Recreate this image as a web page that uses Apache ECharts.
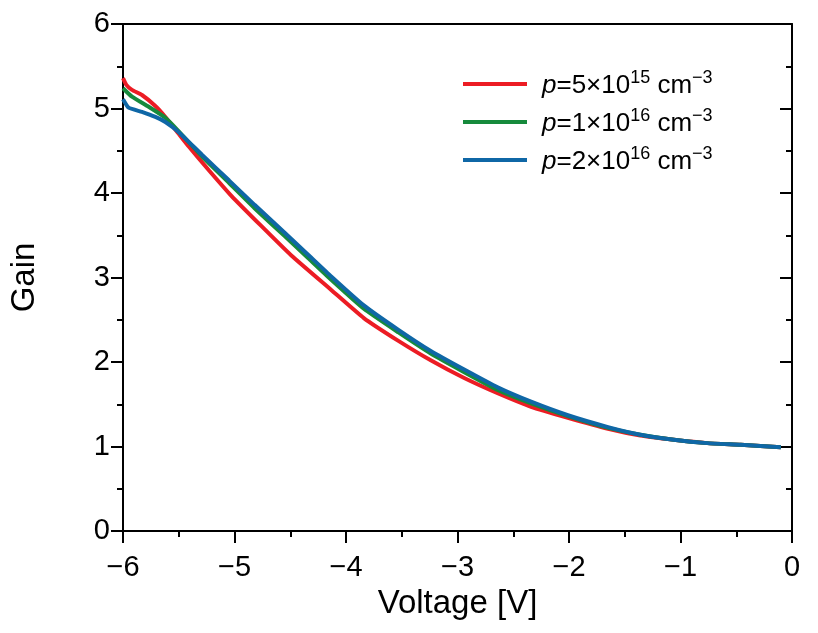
<!DOCTYPE html>
<html>
<head>
<meta charset="utf-8">
<title>Gain vs Voltage</title>
<script src="https://cdn.jsdelivr.net/npm/echarts@6/dist/echarts.min.js"></script>
<style>
  html, body { margin: 0; padding: 0; background: #fff; }
  #main { width: 818px; height: 633px; }
</style>
</head>
<body>
<div id="main"></div>
<script>
// p = 5e15 cm^-3
var voltRed = [-6.0, -5.97, -5.92, -5.83, -5.71, -5.62, -5.5, -5.41, -5.23, -5.03, -4.76, -4.49, -4.13, -3.84, -3.53, -3.24, -2.94, -2.64, -2.34, -2.01, -1.65, -1.36, -1.06, -0.76, -0.46, -0.1];
var gainRed = [5.36, 5.28, 5.22, 5.16, 5.03, 4.90, 4.70, 4.55, 4.27, 3.97, 3.61, 3.26, 2.85, 2.52, 2.25, 2.02, 1.81, 1.63, 1.47, 1.34, 1.21, 1.13, 1.08, 1.04, 1.02, 0.99];

// p = 1e16 cm^-3
var voltGreen = [-6.0, -5.92, -5.77, -5.62, -5.5, -5.29, -5.05, -4.82, -4.55, -4.34, -4.13, -3.84, -3.53, -3.24, -2.94, -2.64, -2.34, -2.01, -1.65, -1.36, -1.06, -0.76, -0.46, -0.1];
var gainGreen = [5.24, 5.14, 5.02, 4.89, 4.73, 4.43, 4.12, 3.82, 3.49, 3.23, 2.97, 2.63, 2.35, 2.10, 1.88, 1.67, 1.51, 1.36, 1.22, 1.14, 1.08, 1.04, 1.02, 0.99];

// p = 2e16 cm^-3
var voltBlue = [-6.0, -5.95, -5.83, -5.71, -5.62, -5.5, -5.29, -5.05, -4.82, -4.55, -4.34, -4.13, -3.84, -3.53, -3.24, -2.94, -2.64, -2.34, -2.01, -1.65, -1.36, -1.06, -0.76, -0.46, -0.1];
var gainBlue = [5.11, 5.01, 4.96, 4.90, 4.84, 4.72, 4.45, 4.15, 3.86, 3.53, 3.27, 3.01, 2.67, 2.38, 2.13, 1.91, 1.70, 1.53, 1.37, 1.23, 1.14, 1.08, 1.04, 1.02, 0.99];

// legend text: mantissa and exponent of p
var seriesNames = ['p1', 'p2', 'p3'];
var mantissas = ['5', '1', '2'];
var exponents = ['15', '16', '16'];
var colors = ['#ec1c24', '#168a3c', '#0f67a6'];

function pairs(xs, ys) {
    var out = [];
    for (var i = 0; i < xs.length; i++) {
        out.push([xs[i], ys[i]]);
    }
    return out;
}

var chart = echarts.init(document.getElementById('main'));
var font = 'Liberation Sans, Arial, sans-serif';
var axisCol = '#000';

var seriesData = [pairs(voltRed, gainRed), pairs(voltGreen, gainGreen), pairs(voltBlue, gainBlue)];
var series = [];
for (var k = 0; k < 3; k++) {
    series.push({
        name: seriesNames[k],
        type: 'line',
        data: seriesData[k],
        smooth: 0.15,
        showSymbol: false,
        lineStyle: { width: 4, color: colors[k] },
        itemStyle: { color: colors[k] }
    });
}

var option = {
    animation: false,
    backgroundColor: '#fff',
    grid: { left: 121, right: 26, top: 24, bottom: 102 },
    legend: {
        orient: 'vertical',
        left: 458,
        top: 64,
        icon: 'rect',
        itemWidth: 64,
        itemHeight: 4,
        itemGap: 8,
        data: seriesNames,
        formatter: function (name) {
            var i = seriesNames.indexOf(name);
            return '{i|p}{n|=' + mantissas[i] + '×10}{s|' + exponents[i] + '}{n| cm}{s|\u22123}';
        },
        textStyle: {
            padding: [0, 0, 0, 10],
            rich: {
                i: { fontFamily: font, fontSize: 26, fontStyle: 'italic', color: '#000', lineHeight: 30, verticalAlign: 'bottom' },
                n: { fontFamily: font, fontSize: 26, color: '#000', lineHeight: 30, verticalAlign: 'bottom' },
                s: { fontFamily: font, fontSize: 18, color: '#000', lineHeight: 30, verticalAlign: 'top' }
            }
        }
    },
    xAxis: [{
        type: 'value',
        min: -6,
        max: 0,
        interval: 1,
        name: 'Voltage [V]',
        nameLocation: 'middle',
        nameGap: 56,
        nameTextStyle: { fontFamily: font, fontSize: 33, color: '#000' },
        axisLine: { onZero: false, lineStyle: { color: axisCol, width: 2 } },
        axisTick: { inside: false, length: 12, lineStyle: { width: 2, color: axisCol } },
        minorTick: { show: true, splitNumber: 2, length: 6, lineStyle: { width: 2, color: axisCol } },
        axisLabel: {
            margin: 22, fontFamily: font, fontSize: 29, color: '#000',
            formatter: function (v) { return v < 0 ? '\u2212' + Math.abs(v) : String(v); }
        },
        splitLine: { show: false }
    }, {
        type: 'value',
        position: 'top',
        min: -6,
        max: 0,
        axisLine: { onZero: false, lineStyle: { color: axisCol, width: 2 } },
        axisTick: { show: false },
        axisLabel: { show: false },
        splitLine: { show: false }
    }],
    yAxis: [{
        type: 'value',
        min: 0,
        max: 6,
        interval: 1,
        name: 'Gain',
        nameLocation: 'middle',
        nameGap: 82,
        nameTextStyle: { fontFamily: font, fontSize: 33, color: '#000' },
        axisLine: { show: true, onZero: false, lineStyle: { color: axisCol, width: 2 } },
        axisTick: { show: true, inside: false, length: 12, lineStyle: { width: 2, color: axisCol } },
        minorTick: { show: true, splitNumber: 2, length: 6, lineStyle: { width: 2, color: axisCol } },
        axisLabel: { margin: 13, fontFamily: font, fontSize: 29, color: '#000' },
        splitLine: { show: false }
    }, {
        type: 'value',
        position: 'right',
        min: 0,
        max: 6,
        interval: 1,
        axisLine: { show: true, onZero: false, lineStyle: { color: axisCol, width: 2 } },
        axisTick: { show: true, inside: true, length: 12, lineStyle: { width: 2, color: axisCol } },
        minorTick: { show: true, splitNumber: 2, length: 6, lineStyle: { width: 2, color: axisCol } },
        axisLabel: { show: false },
        splitLine: { show: false }
    }],
    series: series
};

chart.setOption(option);
</script>
</body>
</html>
